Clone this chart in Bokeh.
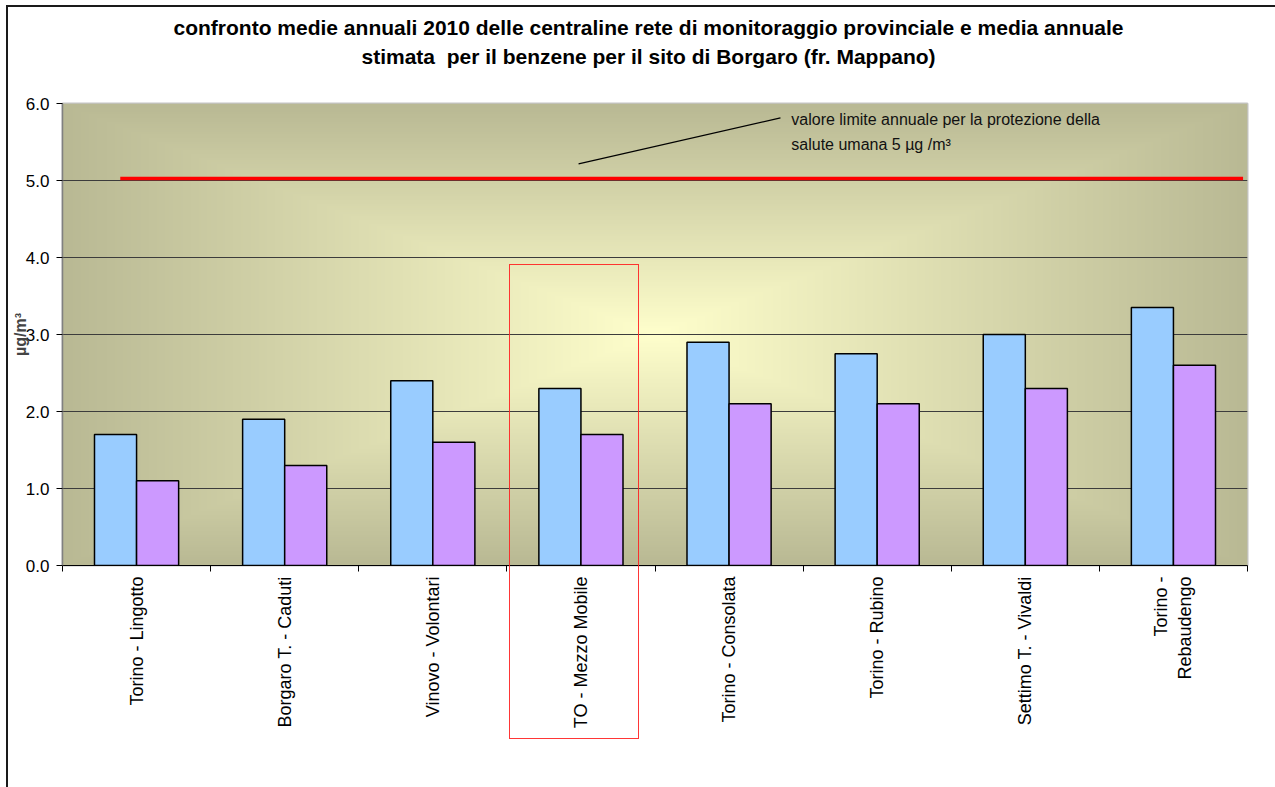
import numpy as np
from bokeh.plotting import figure
from bokeh.layouts import column
from bokeh.models import (Range1d, FixedTicker, Legend, LegendItem, Label, Div,
                          NumeralTickFormatter, InlineStyleSheet)
from bokeh.embed import file_html
from bokeh.resources import INLINE

# ---------------- data ----------------
categories = ["Torino - Lingotto", "Borgaro T. - Caduti", "Vinovo - Volontari",
              "TO - Mezzo Mobile", "Torino - Consolata", "Torino - Rubino",
              "Settimo T. - Vivaldi", "Torino -\nRebaudengo"]
media_campagna = [1.7, 1.9, 2.4, 2.3, 2.9, 2.75, 3.0, 3.35]
media_anno = [1.1, 1.3, 1.6, 1.7, 2.1, 2.1, 2.3, 2.6]
valore_limite = 5.0
y_ticks = [0, 1, 2, 3, 4, 5, 6]
title_lines = ["confronto medie annuali 2010 delle centraline rete di monitoraggio provinciale e media annuale",
               "stimata&nbsp; per il benzene per il sito di Borgaro (fr. Mappano)"]
serie_names = ["media I° e II° campagna", "Media Anno"]
nota = ["valore limite annuale per la protezione della", "salute umana 5 µg /m³"]

FONT = "Liberation Sans"
n = len(categories)
centers = np.arange(n) + 0.5
bw = 0.284

# ---------------- title ----------------
title_div = Div(
    text=('<div style="width:1253px; margin-left:14px; text-align:center; '
          'font-family:\'Liberation Sans\'; font-weight:bold; font-size:21px; line-height:29px; '
          'padding-top:6px; color:#000;">' + "<br>".join(title_lines) + "</div>"),
    width=1267, height=86, margin=(0, 0, 0, 0))

# red highlight frame around "TO - Mezzo Mobile" (overlay, crosses the axis area)
box_css = InlineStyleSheet(css="""
:host::after {
  content: ""; position: absolute; left: 501px; top: 171px; width: 130px; height: 475px;
  box-sizing: border-box; border: 1.5px solid rgba(255,32,32,0.9); pointer-events: none; z-index: 50;
}
""")

p = figure(frame_width=1185, frame_height=462, x_range=Range1d(0, n), y_range=Range1d(0, 6),
           output_backend="svg", toolbar_location=None, title=None,
           min_border_left=54, min_border_right=28, min_border_top=10, min_border_bottom=150)
p.margin = (0, 0, 0, 0)
p.styles = {"position": "relative"}
p.stylesheets = [box_css]
p.background_fill_color = "#bcbc98"
p.border_fill_color = "white"
p.outline_line_color = "#c4c4c4"
p.outline_line_width = 2

# gradient background (rectangular "from centre" fill)
W, H = 593, 231
xs = np.linspace(0, 1185, W)
ys = np.linspace(462, 0, H)
X, Y = np.meshgrid(xs, ys)
t = np.maximum(np.abs(X - 592.5) / 592.5, np.abs(Y - 231.0) / 231.0)
s = np.clip(t, 0, 1)
c0 = np.array([255, 255, 204])
c1 = np.array([185, 185, 148])
img = np.empty((H, W), dtype=np.uint32)
view = img.view(dtype=np.uint8).reshape((H, W, 4))
for k in range(3):
    view[:, :, k] = (c0[k] * (1 - s) + c1[k] * s).astype(np.uint8)
view[:, :, 3] = 255
bg = p.image_rgba(image=[img], x=0, y=0, dw=n, dh=6)
bg.level = "image"

# grid
p.xgrid.visible = False
p.ygrid.grid_line_color = "#3c3c3c"
p.ygrid.grid_line_width = 1
p.ygrid.ticker = FixedTicker(ticks=y_ticks)

# bars
r1 = p.vbar(x=centers - bw / 2, top=media_campagna, width=bw, bottom=0,
            fill_color="#99ccff", line_color="black", line_width=1.5)
r2 = p.vbar(x=centers + bw / 2, top=media_anno, width=bw, bottom=0,
            fill_color="#cc99ff", line_color="black", line_width=1.5)

# limit line
p.line(x=[0.39, 7.97], y=[valore_limite + 0.025] * 2, line_color="#ff0000", line_width=3.5)

# annotation leader + text
p.segment(x0=[3.484], y0=[5.217], x1=[4.847], y1=[5.814], line_color="black", line_width=1.2)
p.add_layout(Label(x=4.92, y=5.79, text=nota[0], text_font=FONT, text_font_size="16px",
                   text_baseline="middle", text_color="#111111"))
p.add_layout(Label(x=4.92, y=5.47, text=nota[1], text_font=FONT, text_font_size="16px",
                   text_baseline="middle", text_color="#111111"))

# axes
p.yaxis.ticker = FixedTicker(ticks=y_ticks)
p.yaxis.formatter = NumeralTickFormatter(format="0.0")
p.yaxis.axis_line_color = "#808080"
p.yaxis.axis_line_width = 1.5
p.yaxis.major_tick_out = 6
p.yaxis.major_tick_in = 0
p.yaxis.minor_tick_line_color = None
p.yaxis.major_label_text_font = FONT
p.yaxis.major_label_text_font_size = "17px"
p.yaxis.major_label_text_color = "black"
p.yaxis.major_label_standoff = 7
p.yaxis.axis_label = "µg/m³"
p.yaxis.axis_label_text_font = FONT
p.yaxis.axis_label_text_font_size = "16px"
p.yaxis.axis_label_text_font_style = "bold"
p.yaxis.axis_label_standoff = -6

p.xaxis.axis_label = None
p.xaxis.axis_label_standoff = 0
p.xaxis.ticker = FixedTicker(ticks=list(centers), minor_ticks=list(range(n + 1)))
p.xaxis.major_label_overrides = {float(c): lab for c, lab in zip(centers, categories)}
p.xaxis.major_label_orientation = np.pi / 2
p.xaxis.major_tick_out = 0
p.xaxis.major_tick_in = 0
p.xaxis.minor_tick_out = 6
p.xaxis.minor_tick_in = 0
p.xaxis.minor_tick_line_color = "black"
p.xaxis.axis_line_color = "black"
p.xaxis.axis_line_width = 1.2
p.xaxis.major_label_text_font = FONT
p.xaxis.major_label_text_font_size = "18px"
p.xaxis.major_label_text_color = "black"
p.xaxis.major_label_standoff = 5

# legend below the axis labels
legend = Legend(items=[LegendItem(label=serie_names[0], renderers=[r1]),
                       LegendItem(label=serie_names[1], renderers=[r2])],
                location="center", orientation="horizontal", padding=0, margin=0, spacing=482,
                glyph_width=10, glyph_height=10, label_height=10, label_standoff=5,
                label_text_font=FONT, label_text_font_size="15px",
                border_line_alpha=0, background_fill_alpha=0)
p.add_layout(legend, "below")

layout = column(title_div, p, spacing=0)
layout.margin = (5, 0, 0, 6)
layout.styles = {"border-left": "2px solid #1a1a1a", "border-top": "2px solid #1a1a1a",
                 "min-height": "782px"}

open("out.html", "w").write(file_html(layout, INLINE))
